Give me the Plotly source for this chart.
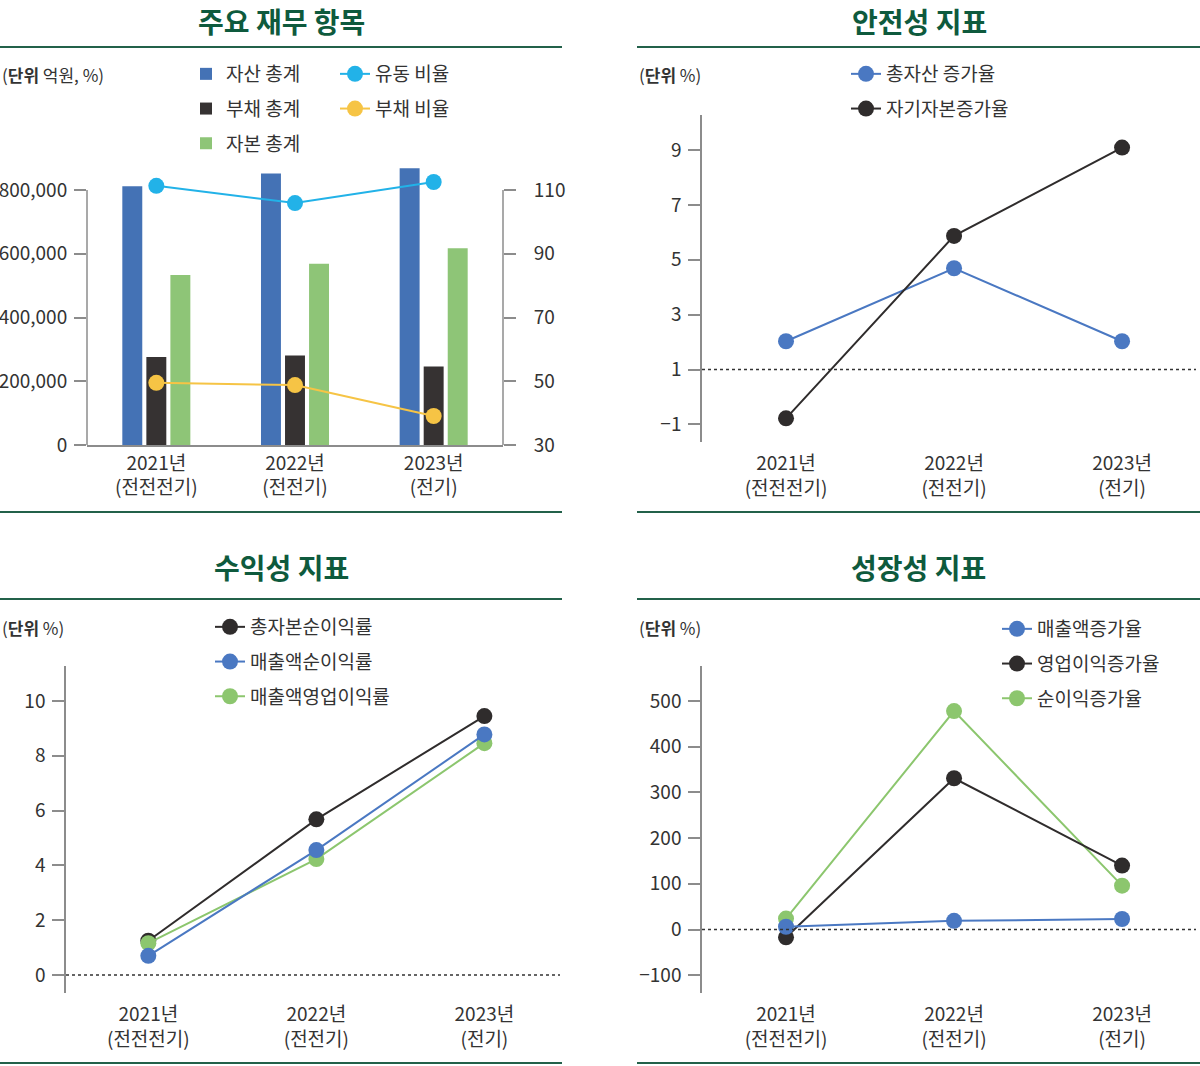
import plotly.graph_objects as go

# ---------------- data ----------------
years = ["2021년", "2022년", "2023년"]
periods = ["(전전전기)", "(전전기)", "(전기)"]

# 주요 재무 항목 (억원, %)
total_assets = [812000, 852000, 868000]
total_liabilities = [276000, 281000, 246000]
total_equity = [533000, 569000, 617000]
current_ratio = [111.3, 105.9, 112.5]
debt_ratio = [49.5, 48.8, 39.1]

# 안전성 지표 (%)
asset_growth = [2.03, 4.69, 2.03]
equity_growth = [-0.78, 5.87, 9.09]

# 수익성 지표 (%)
roa = [1.25, 5.68, 9.45]
net_margin = [0.70, 4.56, 8.78]
op_margin = [1.16, 4.23, 8.46]

# 성장성 지표 (%)
sales_growth = [6, 19, 23]
op_income_growth = [-17, 331, 140]
net_income_growth = [24, 478, 96]

tick_labels = [f"{y}<br>{p}" for y, p in zip(years, periods)]

# ---------------- style ----------------
W, H = 1200, 1066
def px(x):
    return x / W
def py(y):
    return 1 - y / H

FONT = "Noto Sans CJK KR"
TEXT = "#333333"
AXIS = "#8c8c8c"
TITLE_GREEN = "#0e5a3d"
RULE_GREEN = "#23614a"

BAR_BLUE = "#4472b5"
BAR_BLACK = "#363232"
BAR_GREEN = "#8ec577"
CYAN = "#22b2e8"
YELLOW = "#f6c445"
L_BLUE = "#4a78c2"
L_BLACK = "#2f2c2c"
L_GREEN = "#8cc66e"

fig = go.Figure()

# ---- Panel 1 ----
fig.add_trace(go.Bar(x=years, y=total_assets, name="자산 총계", marker_color=BAR_BLUE,
                     xaxis="x", yaxis="y", legend="legend", legendgroup="p1a"))
fig.add_trace(go.Bar(x=years, y=total_liabilities, name="부채 총계", marker_color=BAR_BLACK,
                     xaxis="x", yaxis="y", legend="legend", legendgroup="p1b"))
fig.add_trace(go.Bar(x=years, y=total_equity, name="자본 총계", marker_color=BAR_GREEN,
                     xaxis="x", yaxis="y", legend="legend", legendgroup="p1c"))
fig.add_trace(go.Scatter(x=years, y=current_ratio, name="유동 비율", mode="lines+markers",
                         line=dict(color=CYAN, width=2), marker=dict(size=16, color=CYAN),
                         xaxis="x", yaxis="y2", legend="legend2", legendgroup="p1d", cliponaxis=False))
fig.add_trace(go.Scatter(x=years, y=debt_ratio, name="부채 비율", mode="lines+markers",
                         line=dict(color=YELLOW, width=2), marker=dict(size=16, color=YELLOW),
                         xaxis="x", yaxis="y2", legend="legend2", legendgroup="p1e", cliponaxis=False))

# ---- Panel 2 ----
fig.add_trace(go.Scatter(x=years, y=asset_growth, name="총자산 증가율", mode="lines+markers",
                         line=dict(color=L_BLUE, width=2), marker=dict(size=16, color=L_BLUE),
                         xaxis="x2", yaxis="y3", legend="legend3", legendgroup="p2a", cliponaxis=False))
fig.add_trace(go.Scatter(x=years, y=equity_growth, name="자기자본증가율", mode="lines+markers",
                         line=dict(color=L_BLACK, width=2), marker=dict(size=16, color=L_BLACK),
                         xaxis="x2", yaxis="y3", legend="legend3", legendgroup="p2b", cliponaxis=False))

# ---- Panel 3 ----
fig.add_trace(go.Scatter(x=years, y=roa, name="총자본순이익률", mode="lines+markers",
                         line=dict(color=L_BLACK, width=2), marker=dict(size=16, color=L_BLACK),
                         xaxis="x3", yaxis="y4", legend="legend4", legendgroup="p3a",
                         legendrank=1, cliponaxis=False))
fig.add_trace(go.Scatter(x=years, y=op_margin, name="매출액영업이익률", mode="lines+markers",
                         line=dict(color=L_GREEN, width=2), marker=dict(size=16, color=L_GREEN),
                         xaxis="x3", yaxis="y4", legend="legend4", legendgroup="p3c",
                         legendrank=3, cliponaxis=False))
fig.add_trace(go.Scatter(x=years, y=net_margin, name="매출액순이익률", mode="lines+markers",
                         line=dict(color=L_BLUE, width=2), marker=dict(size=16, color=L_BLUE),
                         xaxis="x3", yaxis="y4", legend="legend4", legendgroup="p3b",
                         legendrank=2, cliponaxis=False))

# ---- Panel 4 ----
fig.add_trace(go.Scatter(x=years, y=net_income_growth, name="순이익증가율", mode="lines+markers",
                         line=dict(color=L_GREEN, width=2), marker=dict(size=16, color=L_GREEN),
                         xaxis="x4", yaxis="y5", legend="legend5", legendgroup="p4c",
                         legendrank=3, cliponaxis=False))
fig.add_trace(go.Scatter(x=years, y=op_income_growth, name="영업이익증가율", mode="lines+markers",
                         line=dict(color=L_BLACK, width=2), marker=dict(size=16, color=L_BLACK),
                         xaxis="x4", yaxis="y5", legend="legend5", legendgroup="p4b",
                         legendrank=2, cliponaxis=False))
fig.add_trace(go.Scatter(x=years, y=sales_growth, name="매출액증가율", mode="lines+markers",
                         line=dict(color=L_BLUE, width=2), marker=dict(size=16, color=L_BLUE),
                         xaxis="x4", yaxis="y5", legend="legend5", legendgroup="p4a",
                         legendrank=1, cliponaxis=False))

tickfont = dict(family=FONT, size=19, color=TEXT)

def xcat(domain, rng, showline=False, standoff=0):
    d = dict(domain=domain, type="category", range=rng, tickvals=years, ticktext=tick_labels,
             showline=showline, linecolor=AXIS, linewidth=1.5, ticks="", showgrid=False,
             zeroline=False, tickfont=tickfont, automargin=False, fixedrange=True)
    if standoff:
        d["ticklabelstandoff"] = standoff
    return d

def yax(domain, rng, tickvals, anchor, showline=True, **kw):
    d = dict(domain=domain, range=rng, tickvals=tickvals, anchor=anchor, showline=showline,
             linecolor=AXIS, linewidth=1.5, ticks="outside", ticklen=12, tickwidth=1.5,
             tickcolor=AXIS, showgrid=False, zeroline=False, tickfont=tickfont,
             automargin=False, fixedrange=True, ticklabelstandoff=3)
    d.update(kw)
    return d

legend_common = dict(xanchor="left", yanchor="top", bgcolor="rgba(0,0,0,0)", borderwidth=0,
                     font=dict(family=FONT, size=19, color=TEXT), tracegroupgap=7,
                     traceorder="grouped", itemclick=False, itemdoubleclick=False)

p1_top_val = 800000 * (445 - 160) / (445 - 190)
p1_top_val2 = 30 + 80 * (445 - 160) / (445 - 190)

fig.update_layout(
    width=W, height=H, margin=dict(l=0, r=0, t=0, b=0),
    template="none", paper_bgcolor="white", plot_bgcolor="rgba(0,0,0,0)",
    font=dict(family=FONT, color=TEXT),
    barmode="group", bargap=0.48, bargroupgap=0.17,
    xaxis=xcat([px(87), px(503)], [-0.5, 2.5], showline=True) | dict(anchor="y"),
    yaxis=yax([py(445), py(160)], [0, p1_top_val], [0, 200000, 400000, 600000, 800000], "x",
              showline=False, tickformat=","),
    yaxis2=dict(overlaying="y", side="right", anchor="x", range=[30, p1_top_val2],
                tickvals=[30, 50, 70, 90, 110], showline=False, ticks="outside", ticklen=12,
                tickwidth=1.5, tickcolor=AXIS, showgrid=False, zeroline=False,
                tickfont=tickfont, automargin=False, fixedrange=True, ticklabelstandoff=14),
    xaxis2=xcat([px(702), px(1196)], [-0.5, 2.44], standoff=8) | dict(anchor="y3"),
    yaxis3=yax([py(442), py(115)], [-1.643, 10.278], [-1, 1, 3, 5, 7, 9], "x2"),
    xaxis3=xcat([px(66), px(560)], [-0.49, 2.45], standoff=8) | dict(anchor="y4"),
    yaxis4=yax([py(993), py(666)], [-0.657, 11.277], [0, 2, 4, 6, 8, 10], "x3"),
    xaxis4=xcat([px(702), px(1196)], [-0.5, 2.44], standoff=8) | dict(anchor="y5"),
    yaxis5=yax([py(993), py(666)], [-138.9, 576.6], [-100, 0, 100, 200, 300, 400, 500], "x4"),
    legend=legend_common | dict(x=px(186), y=py(55)),
    legend2=legend_common | dict(x=px(335), y=py(55)),
    legend3=legend_common | dict(x=px(846), y=py(55)),
    legend4=legend_common | dict(x=px(210), y=py(608)),
    legend5=legend_common | dict(x=px(997), y=py(610)),
)

shapes = []
# axis lines for panel 1 (ending at top tick)
shapes.append(dict(type="line", xref="paper", yref="y", x0=px(87), x1=px(87), y0=0, y1=800000,
                   line=dict(color=AXIS, width=1.5)))
shapes.append(dict(type="line", xref="paper", yref="y2", x0=px(503), x1=px(503), y0=30, y1=110,
                   line=dict(color=AXIS, width=1.5)))
# dotted reference lines
shapes.append(dict(type="line", xref="x2 domain", yref="y3", x0=0, x1=1, y0=1, y1=1,
                   line=dict(color="#333333", width=1.5, dash="dot")))
shapes.append(dict(type="line", xref="x3 domain", yref="y4", x0=0, x1=1, y0=0, y1=0,
                   line=dict(color="#333333", width=1.5, dash="dot")))
shapes.append(dict(type="line", xref="x4 domain", yref="y5", x0=0, x1=1, y0=0, y1=0,
                   line=dict(color="#333333", width=1.5, dash="dot")))
# green rules
for (x0, x1, y) in [(0, 562, 47), (637, 1200, 47), (0, 562, 512), (637, 1200, 512),
                    (0, 562, 599), (637, 1200, 599), (0, 562, 1063), (637, 1200, 1063)]:
    shapes.append(dict(type="line", xref="paper", yref="paper", x0=px(x0), x1=px(x1),
                       y0=py(y), y1=py(y), line=dict(color=RULE_GREEN, width=2)))
fig.update_layout(shapes=shapes)

annotations = []
for text, x, y, anchor in [("주요 재무 항목", 281, 0, "top"), ("안전성 지표", 919, 0, "top"),
                           ("수익성 지표", 281, 567, "middle"), ("성장성 지표", 918, 567, "middle")]:
    annotations.append(dict(text=f"<b>{text}</b>", x=px(x), y=py(y), xref="paper", yref="paper",
                            xanchor="center", yanchor=anchor, showarrow=False,
                            borderpad=0,
                            font=dict(family=FONT, size=28, color=TITLE_GREEN)))
for text, x, y in [("(<b>단위</b> 억원, %)", 0, 75), ("(<b>단위</b> %)", 637, 75),
                   ("(<b>단위</b> %)", 0, 627), ("(<b>단위</b> %)", 637, 627)]:
    annotations.append(dict(text=text, x=px(x), y=py(y), xref="paper", yref="paper",
                            xanchor="left", yanchor="middle", showarrow=False,
                            font=dict(family=FONT, size=17, color=TEXT)))
fig.update_layout(annotations=annotations)

fig.write_html("out.html", config={"displayModeBar": False},
               post_script="document.body.style.margin='0';")
